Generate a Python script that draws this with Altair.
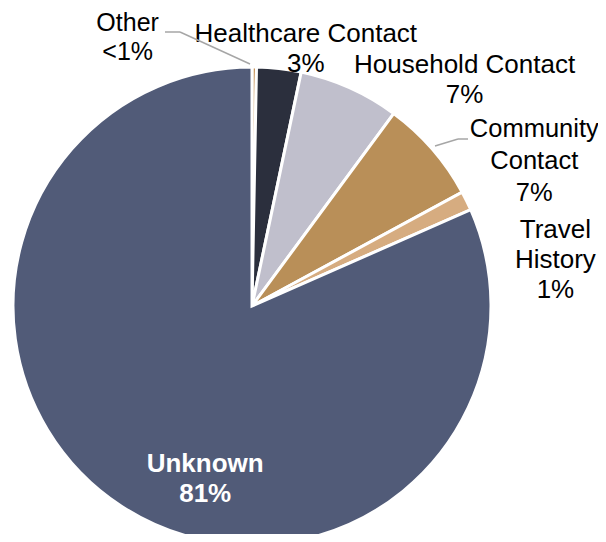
import altair as alt
import pandas as pd

categories = ["Other", "Healthcare Contact", "Household Contact", "Community Contact", "Travel History", "Unknown"]
values = [0.3, 3.0, 6.8, 7.0, 1.3, 81.6]
labels = ["Other\n<1%", "Healthcare Contact\n3%", "Household Contact\n7%", "Community\nContact\n7%", "Travel\nHistory\n1%", "Unknown\n81%"]
colors = ["#c48d4e", "#2b2f3d", "#c0bfcc", "#b98f58", "#d6ac80", "#515b78"]

df = pd.DataFrame({
    "cat": categories,
    "value": values,
    "label": labels,
    "order": list(range(len(categories))),
})

CX, CY = 244, 298
R = 239

base = alt.Chart(df).encode(
    theta=alt.Theta("value:Q", stack=True),
    order=alt.Order("order:Q"),
    x=alt.value(CX),
    y=alt.value(CY),
)

pie = base.mark_arc(outerRadius=R, stroke="white", strokeWidth=3).encode(
    color=alt.Color("cat:N", scale=alt.Scale(domain=categories, range=colors), legend=None)
)

FONT = "Liberation Sans"

def label_layer(cat, radius, dx, dy, line_height=30, bold=False, color="#000000", size=26):
    return base.mark_text(
        radius=radius, dx=dx, dy=dy, lineBreak="\n", lineHeight=line_height,
        font=FONT, fontSize=size, fontWeight="bold" if bold else "normal",
        color=color, align="center", baseline="alphabetic",
    ).encode(
        text="label:N",
        opacity=alt.condition(alt.datum.cat == cat, alt.value(1), alt.value(0)),
    )

layers = [
    pie,
    label_layer("Other", 280, -127, 5, line_height=29, size=25),
    label_layer("Healthcare Contact", 264, 24, -2),
    label_layer("Household Contact", 300, 90, 41),
    label_layer("Community Contact", 300, 56, 28, line_height=32, size=25.5),
    label_layer("Travel History", 300, 34, 64),
    label_layer("Unknown", 190, 57, 7, bold=True, color="#ffffff"),
]

leader_style = dict(color="#a6a6a6", strokeWidth=1.5)
leaders = [
    ((157, 24), (172, 24)),
    ((172, 24), (242, 56)),
    ((427, 138), (450, 131)),
    ((450, 131), (460, 131)),
]
for (x1, y1), (x2, y2) in leaders:
    layers.append(
        alt.Chart(df.head(1)).mark_rule(**leader_style).encode(
            x=alt.value(x1), y=alt.value(y1), x2=alt.value(x2), y2=alt.value(y2)
        )
    )

chart = alt.layer(*layers).properties(
    width=590, height=526, autosize="none", padding=0
).configure_view(stroke=None)

chart.save("out.html", embed_options={"renderer": "svg", "actions": False})
